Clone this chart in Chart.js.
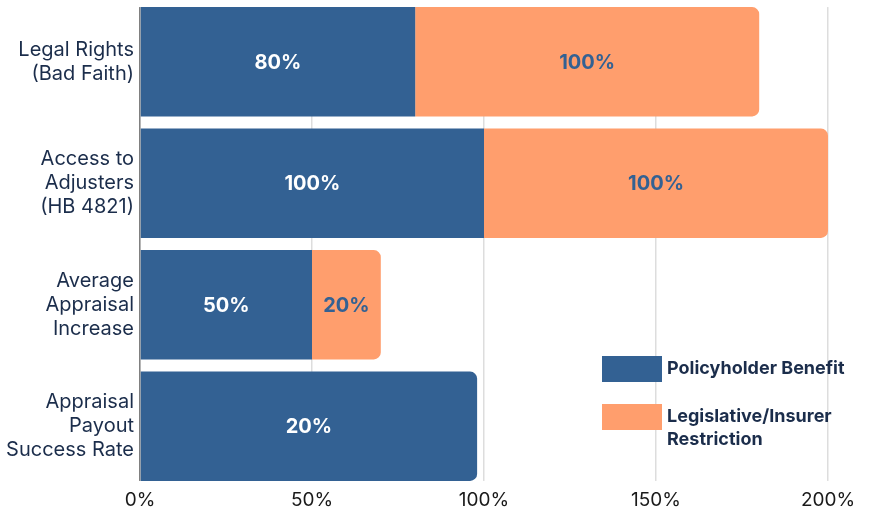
<!DOCTYPE html>
<html lang="en">
<head>
    <meta charset="UTF-8">
    <title>Policyholder Benefit vs Restriction</title>
    <script src="https://cdn.jsdelivr.net/npm/chart.js@4.4.1/dist/chart.umd.min.js"></script>
    <style>
        body {
            margin: 0;
            padding: 0;
            background: #fff;
            font-family: 'Inter', 'Noto Sans', sans-serif;
        }
        .wrap {
            position: relative;
            width: 874px;
            height: 514px;
        }
        canvas {
            display: block;
        }
        .legend {
            position: absolute;
            left: 602px;
            top: 356px;
            color: #1b2d4b;
            font-weight: 700;
            font-size: 18px;
            line-height: 23px;
        }
        .legend .item {
            display: flex;
            align-items: flex-start;
            margin-bottom: 22px;
        }
        .legend .box {
            width: 60px;
            height: 26px;
            margin-right: 5px;
            flex: none;
        }
    </style>
</head>
<body>
<div class="wrap">
    <canvas id="chart" width="874" height="514"></canvas>
    <div class="legend">
        <div class="item"><div class="box" style="background:#336193"></div><div>Policyholder Benefit</div></div>
        <div class="item"><div class="box" style="background:#ff9e6d"></div><div>Legislative/Insurer<br>Restriction</div></div>
    </div>
</div>

<script>
    const categories = [
        ['Legal Rights', '(Bad Faith)'],
        ['Access to', 'Adjusters', '(HB 4821)'],
        ['Average', 'Appraisal', 'Increase'],
        ['Appraisal', 'Payout', 'Success Rate']
    ];
    const benefitValues = [80, 100, 50, 98];
    const restrictionValues = [100, 100, 20, 0];
    const benefitLabels = ['80%', '100%', '50%', '20%'];
    const restrictionLabels = ['100%', '100%', '20%', ''];
    const xTicks = [0, 50, 100, 150, 200];

    const BLUE = '#336193';
    const ORANGE = '#ff9e6d';

    // writes the value labels in the middle of each bar
    const barLabels = {
        id: 'barLabels',
        afterDatasetsDraw(chart) {
            const ctx = chart.ctx;
            const sets = [
                { labels: benefitLabels, color: '#ffffff' },
                { labels: restrictionLabels, color: BLUE }
            ];
            ctx.save();
            ctx.font = "700 20px Inter, 'Noto Sans', sans-serif";
            ctx.textAlign = 'center';
            ctx.textBaseline = 'middle';
            sets.forEach((s, di) => {
                chart.getDatasetMeta(di).data.forEach((bar, i) => {
                    if (!s.labels[i]) return;
                    ctx.fillStyle = s.color;
                    ctx.fillText(s.labels[i], (bar.x + bar.base) / 2, bar.y + 1);
                });
            });
            ctx.restore();
        }
    };

    // grid lines and the left axis line stop where the bars stop
    const gridTrim = {
        id: 'gridTrim',
        beforeDatasetsDraw(chart) {
            const a = chart.chartArea;
            const ctx = chart.ctx;
            const gap = (a.bottom - a.top) / categories.length / 2 * 0.1;
            ctx.save();
            ctx.fillStyle = '#ffffff';
            ctx.fillRect(a.left - 3, 0, a.right - a.left + 6, a.top + gap);
            ctx.fillRect(a.left - 3, a.bottom - gap, a.right - a.left + 6, gap + 1);
            ctx.restore();
        }
    };

    new Chart(document.getElementById('chart'), {
        type: 'bar',
        data: {
            labels: categories,
            datasets: [{
                label: 'Policyholder Benefit',
                data: benefitValues,
                backgroundColor: BLUE,
                borderRadius: ctx => restrictionValues[ctx.dataIndex] > 0 ? 0 : { topRight: 7, bottomRight: 7 },
                borderSkipped: false,
                barPercentage: 0.9,
                categoryPercentage: 1
            }, {
                label: 'Legislative/Insurer Restriction',
                data: restrictionValues,
                backgroundColor: ORANGE,
                borderRadius: { topRight: 7, bottomRight: 7 },
                borderSkipped: false,
                barPercentage: 0.9,
                categoryPercentage: 1
            }]
        },
        options: {
            indexAxis: 'y',
            responsive: false,
            animation: false,
            layout: {
                padding: { top: 1, right: 46, bottom: 0, left: 0 }
            },
            plugins: {
                legend: { display: false },
                tooltip: { enabled: false }
            },
            scales: {
                x: {
                    stacked: true,
                    min: 0,
                    max: 200,
                    afterBuildTicks: scale => {
                        scale.ticks = xTicks.map(v => ({ value: v }));
                    },
                    afterFit: scale => { scale.height = 27; },
                    ticks: {
                        callback: v => v + '%',
                        color: '#1a1a1a',
                        padding: 2,
                        font: { family: "Inter, 'Noto Sans', sans-serif", size: 19 }
                    },
                    grid: {
                        color: '#dddddd',
                        lineWidth: 1.5,
                        drawTicks: false
                    },
                    border: { display: false }
                },
                y: {
                    stacked: true,
                    afterFit: scale => {
                        scale.width = 140;
                        scale.paddingTop = 0;
                        scale.paddingBottom = 0;
                    },
                    ticks: {
                        color: '#1b2d4b',
                        padding: 6,
                        font: { family: "Inter, 'Noto Sans', sans-serif", size: 20, lineHeight: 1.2 }
                    },
                    grid: { display: false, drawTicks: false },
                    border: { display: true, color: '#808080', width: 1.5 }
                }
            }
        },
        plugins: [barLabels, gridTrim]
    });
</script>
</body>
</html>
